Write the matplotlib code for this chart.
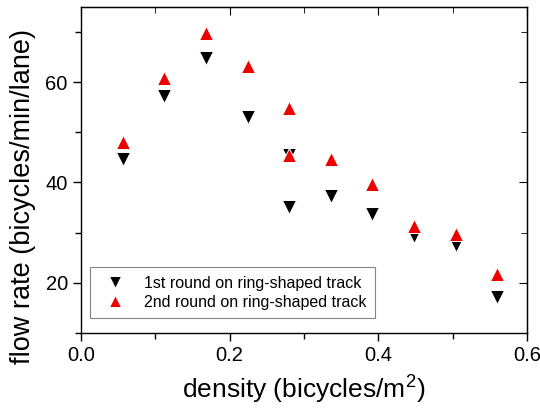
import matplotlib.pyplot as plt
from matplotlib.ticker import MultipleLocator

plt.rcParams['font.family'] = ['Liberation Sans', 'DejaVu Sans']
plt.rcParams['mathtext.fontset'] = 'custom'
plt.rcParams['mathtext.rm'] = 'Liberation Sans'

density = [0.056, 0.112, 0.168, 0.224, 0.28, 0.28, 0.336, 0.392, 0.448, 0.504, 0.56]
flow_round1 = [44.7, 57.2, 64.9, 53.1, 45.4, 35.1, 37.4, 33.7, 29.4, 27.5, 17.2]
flow_round2 = [48.1, 60.9, 69.9, 63.2, 54.9, 45.4, 44.7, 39.7, 31.4, 29.7, 21.7]

fig = plt.figure(figsize=(5.4, 4.08), dpi=100)
ax = fig.add_axes([0.15, 0.184, 0.826, 0.799])

ax.plot(density, flow_round1, 'v', color='black', markersize=10, linestyle='none',
        markeredgecolor='white', markeredgewidth=0.7,
        label='1st round on ring-shaped track')
ax.plot(density, flow_round2, '^', color='#ee0000', markersize=10, linestyle='none',
        markeredgecolor='white', markeredgewidth=0.7,
        label='2nd round on ring-shaped track')

ax.set_xlim(0, 0.6)
ax.set_ylim(10, 75)
ax.xaxis.set_major_locator(MultipleLocator(0.2))
ax.xaxis.set_minor_locator(MultipleLocator(0.1))
ax.yaxis.set_major_locator(MultipleLocator(20))
ax.yaxis.set_minor_locator(MultipleLocator(10))
ax.xaxis.set_major_formatter(plt.FuncFormatter(lambda v, p: f'{v:.1f}'))

ax.tick_params(which='both', direction='out', labelsize=14.5, width=1)
ax.tick_params(which='major', length=6)
ax.tick_params(which='minor', length=4)
for s in ax.spines.values():
    s.set_linewidth(1)

# mirrored ticks on top/right pointing inward
top = ax.secondary_xaxis('top')
top.xaxis.set_major_locator(MultipleLocator(0.2))
top.xaxis.set_minor_locator(MultipleLocator(0.1))
top.tick_params(which='both', direction='in', labeltop=False)
top.tick_params(which='major', length=6)
top.tick_params(which='minor', length=4)
right = ax.secondary_yaxis('right')
right.yaxis.set_major_locator(MultipleLocator(20))
right.yaxis.set_minor_locator(MultipleLocator(10))
right.tick_params(which='both', direction='in', labelright=False)
right.tick_params(which='major', length=6)
right.tick_params(which='minor', length=4)

ax.set_xlabel('density (bicycles/m$^\\mathregular{2}$)', fontsize=19)
ax.set_ylabel('flow rate (bicycles/min/lane)', fontsize=19.5)
ax.xaxis.set_label_coords(0.5, -0.12, transform=ax.transAxes)
ax.yaxis.set_label_coords(-0.1, 0.42, transform=ax.transAxes)
ax.xaxis.label.set_va('top')

leg = ax.legend(loc='lower left', fontsize=11.5, frameon=True, fancybox=False,
                edgecolor='#666666', bbox_to_anchor=(0.01, 0.03), borderpad=0.55,
                handletextpad=0.8, labelspacing=0.25, markerscale=0.85,
                borderaxespad=0.3)
leg.get_frame().set_linewidth(0.8)

fig.savefig('out.png', dpi=100)
